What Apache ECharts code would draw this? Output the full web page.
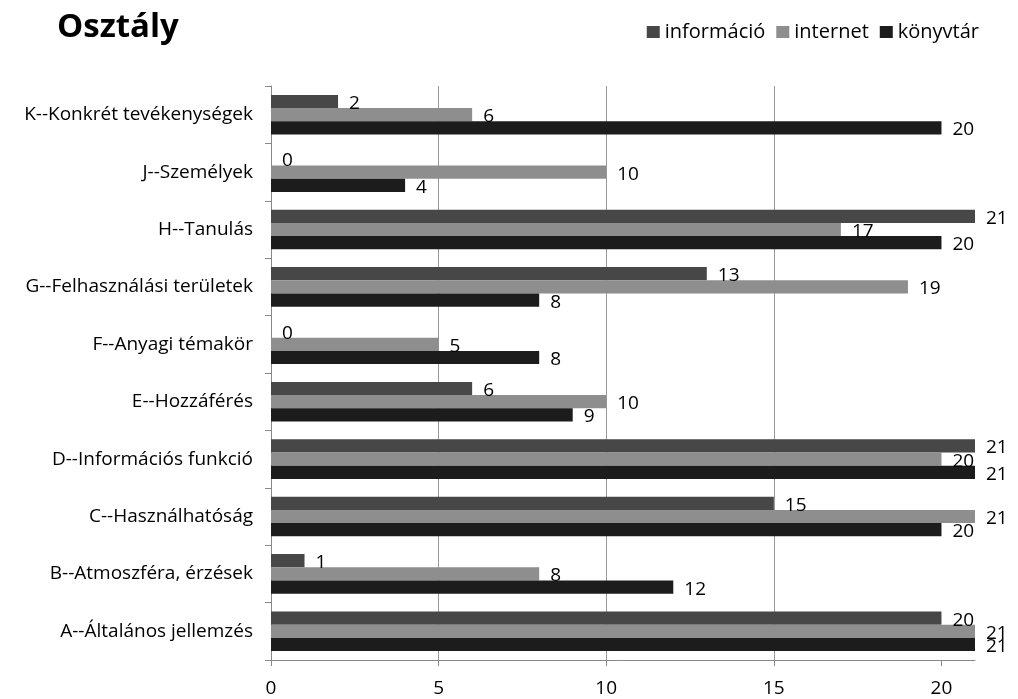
<!DOCTYPE html>
<html><head><meta charset="utf-8">
<script src="https://cdn.jsdelivr.net/npm/echarts@6/dist/echarts.min.js"></script>
<style>html,body{margin:0;padding:0;background:#fff}#c{width:1018px;height:699px}</style>
</head><body><div id="c"></div>
<script>
const categories = ['A--Általános jellemzés','B--Atmoszféra, érzések','C--Használhatóság','D--Információs funkció','E--Hozzáférés','F--Anyagi témakör','G--Felhasználási területek','H--Tanulás','J--Személyek','K--Konkrét tevékenységek'];
const informacio = [20, 1, 15, 21, 6, 0, 13, 21, 0, 2];
const internet   = [21, 8, 21, 20, 10, 5, 19, 17, 10, 6];
const konyvtar   = [21, 12, 20, 21, 9, 8, 8, 20, 4, 20];
const xTicks = [0, 5, 10, 15, 20];

const FONT = '"Open Sans"';
const lbl = {show:true, position:'right', distance:11, offset:[0,2], color:'#000', fontSize:19, fontFamily:FONT};
const chart = echarts.init(document.getElementById('c'));
chart.setOption({
  animation:false,
  title:{text:'Osztály', left:52, top:6, textStyle:{fontFamily:FONT, fontWeight:'bold', fontSize:33, color:'#000'}},
  legend:{data:['információ','internet','könyvtár'], right:34, top:17, icon:'rect', itemWidth:13, itemHeight:12, itemGap:11,
    textStyle:{fontFamily:FONT, fontSize:20, color:'#000'}},
  grid:{left:271, right:43, top:86, bottom:39, containLabel:false},
  xAxis:{type:'value', min:0, max:21, interval:5,
    axisLine:{show:true, lineStyle:{color:'#888'}},
    axisTick:{show:true, length:6, lineStyle:{color:'#888'}, customValues:xTicks},
    axisLabel:{fontFamily:FONT, fontSize:19, color:'#000', margin:19, customValues:xTicks},
    splitLine:{show:true, showMinLine:false, showMaxLine:false, lineStyle:{color:'#999', width:1}}},
  yAxis:{type:'category', data:categories,
    axisLine:{show:true, lineStyle:{color:'#888'}},
    axisTick:{show:true, length:6, lineStyle:{color:'#888'}},
    axisLabel:{fontFamily:FONT, fontSize:19, color:'#000', margin:18}},
  series:[
    {name:'információ', type:'bar', data:informacio, barGap:'0%', barCategoryGap:'31%', itemStyle:{color:'#474747'}, label:lbl},
    {name:'internet', type:'bar', data:internet, barGap:'0%', barCategoryGap:'31%', itemStyle:{color:'#8e8e8e'}, label:lbl},
    {name:'könyvtár', type:'bar', data:konyvtar, barGap:'0%', barCategoryGap:'31%', itemStyle:{color:'#1c1c1c'}, label:lbl}
  ]
});
</script></body></html>
